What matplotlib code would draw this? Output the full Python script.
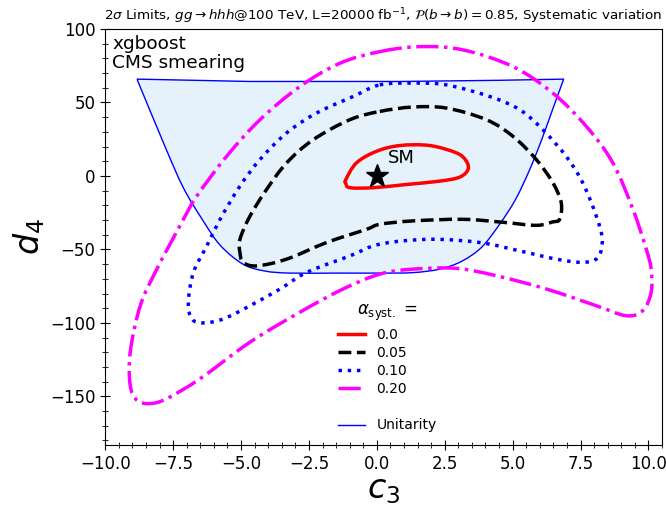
import numpy as np
import matplotlib
matplotlib.use("Agg")
import matplotlib.pyplot as plt
from matplotlib.path import Path
from matplotlib.patches import PathPatch
from matplotlib.lines import Line2D

# --- data (c3, d4) ---
# unitarity region: straight top edge, then the curved boundary from top-right round to top-left
unit_c3 = [-8.83, -4.67, 0.85, 4.52, 6.88, 6.47, 6.07, 5.63, 5.11, 4.52, 3.86, 3.13, 2.32, 1.32,
           0.11, -1.50, -3.20, -4.12, -4.93, -5.77, -6.43, -7.13, -7.83, -8.83]
unit_d4 = [65.9, 64.3, 64.3, 65.1, 65.9, 45.1, 24.7, 4.4, -15.9, -32.9, -48.5, -58.0, -63.4, -65.8,
           -66.1, -66.1, -66.1, -64.7, -60.0, -47.1, -29.5, -7.8, 21.4, 65.9]
unit_top_n = 5  # first five points form the flat top edge

# alpha_syst = 0.0
c00_c3 = [-1.14, -0.75, -0.01, 0.85, 1.95, 2.93, 3.28, 3.36, 3.05, 2.32, 1.09, -0.14, -0.99, -1.14]
c00_d4 = [-2.4, 8.9, 16.8, 20.7, 20.7, 15.7, 10.5, 4.5, -0.8, -3.5, -5.8, -8.0, -8.0, -5.1]

# alpha_syst = 0.05
c05_c3 = [0.11, 1.33, 2.56, 4.03, 5.01, 5.87, 6.48, 6.79, 6.73, 6.47, 5.87, 4.63, 3.16, 1.32, 0.11,
          -0.38, -1.85, -3.32, -4.42, -4.92, -5.04, -5.04, -4.67, -4.06, -3.32, -2.34, -0.99]
c05_d4 = [43.9, 46.9, 46.2, 38.3, 27.0, 11.2, -4.6, -18.2, -29.5, -31.3, -33.6, -31.5, -29.5, -30.6,
          -32.9, -36.3, -45.3, -56.6, -61.2, -58.8, -52.1, -43.1, -27.3, -9.2, 8.9, 24.7, 38.3]

# alpha_syst = 0.10
c10_c3 = [0.11, 1.33, 2.56, 4.15, 5.26, 6.11, 6.97, 7.58, 8.08, 8.30, 8.14, 7.58, 6.61, 5.26, 3.79,
          1.95, 0.11, -0.99, -2.58, -3.57, -4.67, -5.65, -6.39, -6.81, -6.94, -6.75, -6.26, -5.77,
          -5.04, -4.30, -3.32, -2.22, -0.87]
c10_d4 = [62.0, 63.2, 62.0, 54.1, 45.1, 31.5, 13.4, -4.6, -27.3, -43.1, -55.5, -58.8, -56.6, -51.0,
          -45.3, -43.1, -46.4, -54.4, -65.6, -77.0, -88.3, -97.3, -100.0, -97.3, -86.0, -65.6, -47.6,
          -29.5, -6.9, 11.2, 29.3, 42.8, 54.1]

# alpha_syst = 0.20
c20_c3 = [0.11, 1.58, 3.17, 5.01, 6.48, 7.71, 8.69, 9.43, 9.92, 10.10, 10.10, 9.79, 9.18, 8.08, 6.24,
          4.40, 2.93, 1.33, 0.11, -1.24, -2.83, -4.67, -6.51, -7.73, -8.35, -8.83, -9.08, -9.08,
          -8.71, -8.10, -7.12, -6.63, -5.53, -4.30, -2.83, -1.36]
c20_d4 = [84.6, 88.0, 85.8, 74.4, 56.4, 33.8, 8.9, -22.7, -49.8, -63.4, -79.2, -91.7, -95.1, -88.3,
          -76.9, -67.9, -62.9, -63.4, -66.8, -76.9, -92.7, -113.1, -138.0, -151.5, -154.9, -152.7,
          -142.5, -119.9, -88.3, -63.4, -29.5, -13.7, 13.4, 38.3, 60.9, 76.7]

alpha_labels = ["0.0", "0.05", "0.10", "0.20"]
sm_point = (0.0, 0.0)


def spline_segments(pts, closed):
    # Bezier control points (Catmull-Rom) so the path runs smoothly through the read points
    n = len(pts)
    verts, codes = [], []
    last = n if closed else n - 1
    for i in range(last):
        p1, p2 = pts[i], pts[(i + 1) % n]
        if closed:
            p0, p3 = pts[i - 1], pts[(i + 2) % n]
        else:
            p0 = pts[max(i - 1, 0)]
            p3 = pts[min(i + 2, n - 1)]
        verts += [p1 + (p2 - p0) / 6.0, p2 - (p3 - p1) / 6.0, p2]
        codes += [Path.CURVE4] * 3
    return verts, codes


def closed_curve(xs, ys):
    pts = np.column_stack([xs, ys])
    v, c = spline_segments(pts, True)
    return Path([pts[0]] + v, [Path.MOVETO] + c)


def unitarity_path(xs, ys, ntop):
    pts = np.column_stack([xs, ys])
    verts = [pts[0]] + list(pts[1:ntop])
    codes = [Path.MOVETO] + [Path.LINETO] * (ntop - 1)
    v, c = spline_segments(pts[ntop - 1:], False)
    return Path(verts + v, codes + c)


fig = plt.figure(figsize=(6.66, 5.09), dpi=100)
ax = fig.add_axes([0.158, 0.126, 0.836, 0.817])

ax.add_patch(PathPatch(unitarity_path(unit_c3, unit_d4, unit_top_n), facecolor="#e5f2fc",
                       edgecolor="blue", linewidth=1.0, zorder=1))

styles = [("red", "-"), ("black", "--"), ("blue", ":"), ("magenta", "-.")]
curves = [(c00_c3, c00_d4), (c05_c3, c05_d4), (c10_c3, c10_d4), (c20_c3, c20_d4)]
handles = []
for (cx, cy), (col, ls), lab in zip(curves, styles, alpha_labels):
    ax.add_patch(PathPatch(closed_curve(cx, cy), fill=False, edgecolor=col,
                           linestyle=ls, linewidth=2.5, zorder=3))
    handles.append(Line2D([], [], color=col, linestyle=ls, linewidth=2.5, label=lab))
handles.append(Line2D([], [], linestyle="none", label=" "))
handles.append(Line2D([], [], color="blue", linewidth=1.0, label="Unitarity"))

ax.plot(sm_point[0], sm_point[1], marker="*", color="black", markersize=17, zorder=5)
ax.text(0.4, 9, "SM", fontsize=13, zorder=5)

ax.text(-9.75, 96, "xgboost\nCMS smearing", fontsize=13.3, va="top", ha="left", linespacing=1.1)

ax.set_xlim(-10, 10.5)
ax.set_ylim(-183, 100)
ax.set_xticks(np.arange(-10, 10.1, 2.5))
ax.minorticks_on()
ax.tick_params(which="both", direction="inout", labelsize=12, top=False, right=False)
ax.tick_params(which="major", length=7)
ax.tick_params(which="minor", length=4)

ax.set_xlabel("$c_3$", fontsize=24, labelpad=0)
ax.set_ylabel("$d_4$", fontsize=24, labelpad=2)
ax.set_title(r"2$\sigma$ Limits, $gg \rightarrow hhh$@100 TeV, L=20000 fb$^{-1}$, "
             r"$\mathcal{P}(b \rightarrow b) = 0.85$, Systematic variation", fontsize=9.7)

leg = ax.legend(handles=handles, title=r"$\alpha_{\rm syst.}$ =", loc="upper left",
                bbox_to_anchor=(0.395, 0.375), frameon=False, fontsize=10,
                title_fontsize=12, handlelength=2.0, labelspacing=0.3)

fig.savefig("out.png", dpi=100)
